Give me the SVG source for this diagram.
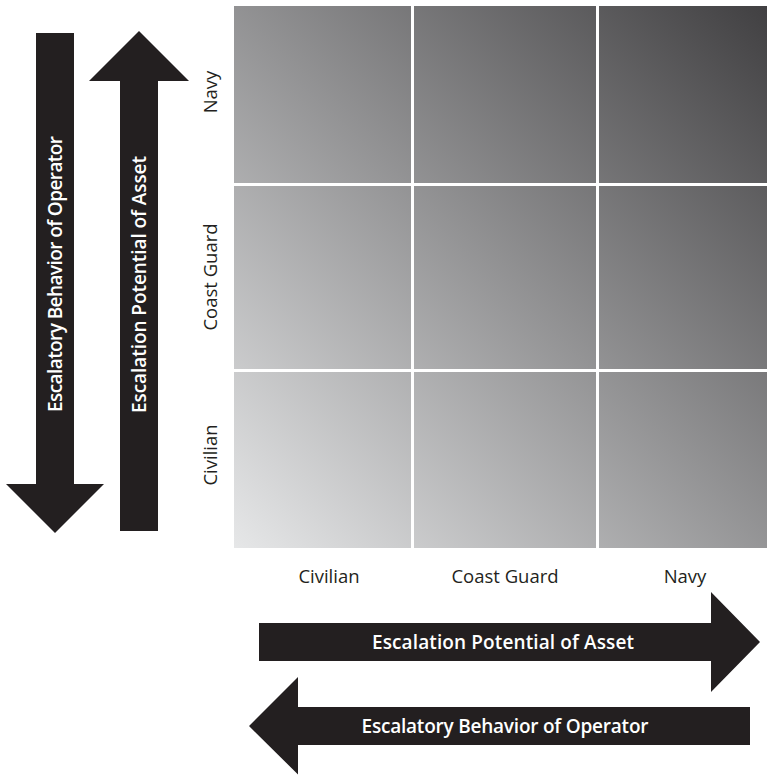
<svg xmlns="http://www.w3.org/2000/svg" width="767" height="775" viewBox="0 0 767 775">
  <defs>
    <linearGradient id="gridGrad" gradientUnits="userSpaceOnUse" x1="234" y1="548" x2="767" y2="6">
      <stop offset="0" stop-color="#e6e7e8"/>
      <stop offset="1" stop-color="#414042"/>
    </linearGradient>
    <style>
      .arrow { fill: #231f20; }
      .alabel { font-family: "Open Sans", "Liberation Sans", sans-serif; font-weight: 600; font-size: 19px; fill: #ffffff; text-anchor: middle; }
      .axis { font-family: "Open Sans", "Liberation Sans", sans-serif; font-weight: 400; font-size: 18.5px; fill: #231f20; text-anchor: middle; }
      .gridline { stroke: #ffffff; stroke-width: 3; fill: none; }
    </style>
  </defs>
  <rect x="0" y="0" width="767" height="775" fill="#ffffff"/>

  <g id="matrix">
    <rect x="234" y="6" width="533" height="542" fill="url(#gridGrad)"/>
    <line class="gridline" x1="412.5" y1="6" x2="412.5" y2="548"/>
    <line class="gridline" x1="597.5" y1="6" x2="597.5" y2="548"/>
    <line class="gridline" x1="234" y1="184.5" x2="767" y2="184.5"/>
    <line class="gridline" x1="234" y1="370.5" x2="767" y2="370.5"/>
  </g>

  <g id="row-labels">
    <text class="axis" transform="translate(217,92) rotate(-90)">Navy</text>
    <text class="axis" transform="translate(217,277) rotate(-90)">Coast Guard</text>
    <text class="axis" transform="translate(217,455) rotate(-90)">Civilian</text>
  </g>

  <g id="col-labels">
    <text class="axis" x="329" y="583">Civilian</text>
    <text class="axis" x="505" y="583">Coast Guard</text>
    <text class="axis" x="685" y="583">Navy</text>
  </g>

  <g id="connectors">
    <g id="arrow-down-operator">
      <polygon class="arrow" points="36,33 74,33 74,484 104,484 55,533 6,484 36,484"/>
      <text class="alabel" transform="translate(61.5,274) rotate(-90)" textLength="276">Escalatory Behavior of Operator</text>
    </g>
    <g id="arrow-up-asset">
      <polygon class="arrow" points="120,531 158,531 158,81 189,81 139,31 89,81 120,81"/>
      <text class="alabel" transform="translate(145.5,284.5) rotate(-90)" textLength="257">Escalation Potential of Asset</text>
    </g>
    <g id="arrow-right-asset">
      <polygon class="arrow" points="259,623 711,623 711,592 760,642 711,692 711,661 259,661"/>
      <text class="alabel" x="503" y="648.5" textLength="262">Escalation Potential of Asset</text>
    </g>
    <g id="arrow-left-operator">
      <polygon class="arrow" points="750,707 298,707 298,677 249,726 298,774.5 298,745 750,745"/>
      <text class="alabel" x="505" y="732.5" textLength="287">Escalatory Behavior of Operator</text>
    </g>
  </g>
</svg>
